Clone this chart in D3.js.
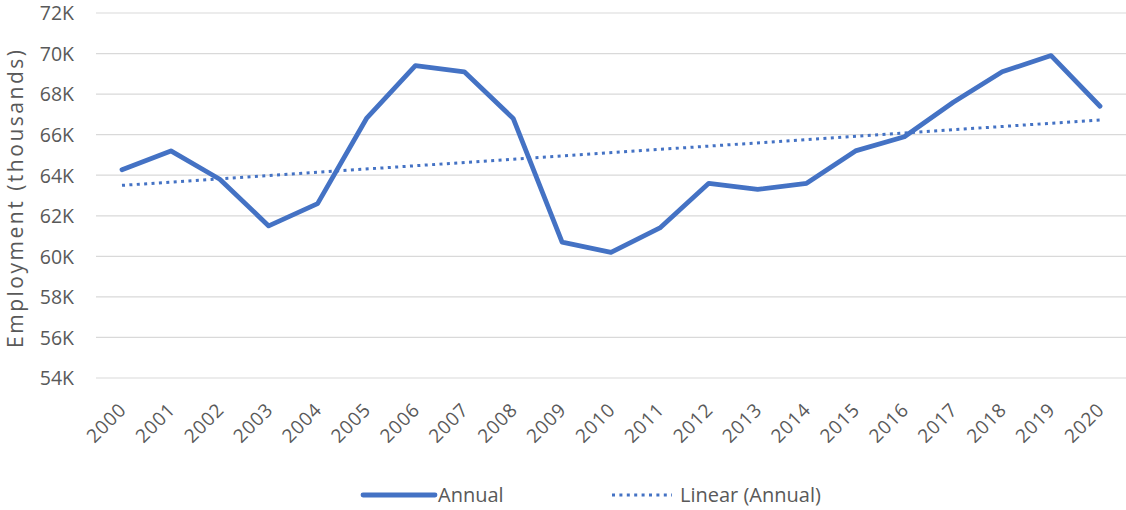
<!DOCTYPE html>
<html>
<head>
<meta charset="utf-8">
<script src="https://cdn.jsdelivr.net/npm/d3@7/dist/d3.min.js"></script>
<style>
  html, body { margin: 0; padding: 0; background: #fff; }
  svg text { font-family: "Open Sans", "Liberation Sans", sans-serif; fill: #595959; }
</style>
</head>
<body>
<svg id="chart" width="1126" height="510"></svg>
<script>
// Annual employment, thousands
const years = ["2000","2001","2002","2003","2004","2005","2006","2007","2008","2009","2010",
               "2011","2012","2013","2014","2015","2016","2017","2018","2019","2020"];
const employment = [64.27, 65.2, 63.8, 61.5, 62.6, 66.8, 69.4, 69.1, 66.8, 60.7, 60.2,
                    61.4, 63.6, 63.3, 63.6, 65.2, 65.9, 67.6, 69.1, 69.9, 67.4];
const yTicks = [54, 56, 58, 60, 62, 64, 66, 68, 70, 72];
const seriesNames = ["Annual", "Linear (Annual)"];

const W = 1126, H = 510;
const plot = { left: 96, right: 1126, top: 13, bottom: 378 };
const blue = "#4472C4";

const svg = d3.select("#chart");

const x = d3.scalePoint().domain(years).range([122, 1100]);
const y = d3.scaleLinear().domain([54, 72]).range([plot.bottom, plot.top]);

// horizontal gridlines
svg.append("g").selectAll("line").data(yTicks).join("line")
  .attr("x1", plot.left).attr("x2", plot.right)
  .attr("y1", d => y(d)).attr("y2", d => y(d))
  .attr("stroke", "#d9d9d9").attr("stroke-width", 1.2);

// y axis labels
const yAxis = svg.append("g")
  .attr("transform", `translate(${plot.left - 22},0)`)
  .call(d3.axisLeft(y).tickValues(yTicks).tickFormat(d => d + "K").tickSize(0).tickPadding(0));
yAxis.select(".domain").remove();
yAxis.selectAll("text")
  .attr("font-size", 19.5).attr("fill", "#595959")
  .style("font-family", '"Open Sans", sans-serif')
  .attr("dy", "0.35em");

// x axis labels, rotated
const xAxis = svg.append("g")
  .attr("transform", `translate(0,${plot.bottom})`)
  .call(d3.axisBottom(x).tickSize(0).tickPadding(0));
xAxis.select(".domain").remove();
xAxis.selectAll("text")
  .attr("font-size", 19).attr("fill", "#595959")
  .style("font-family", '"Open Sans", sans-serif')
  .attr("letter-spacing", 0.8)
  .attr("text-anchor", "end")
  .attr("dy", null).attr("y", null)
  .attr("transform", "translate(5,33) rotate(-45)");

// y axis title
svg.append("text")
  .attr("transform", `translate(23,199) rotate(-90)`)
  .attr("text-anchor", "middle")
  .attr("font-size", 21)
  .attr("textLength", 298).attr("lengthAdjust", "spacing")
  .text("Employment (thousands)");

// linear trend (least squares on the annual series)
const n = employment.length;
const xs = d3.range(n);
const mx = d3.mean(xs), my = d3.mean(employment);
const slope = d3.sum(xs, i => (i - mx) * (employment[i] - my)) / d3.sum(xs, i => (i - mx) ** 2);
const intercept = my - slope * mx;
const trend = [0, n - 1].map(i => ({ year: years[i], v: intercept + slope * i }));

const line = d3.line().x(d => x(d.year)).y(d => y(d.v));

svg.append("path")
  .datum(trend)
  .attr("d", line)
  .attr("fill", "none")
  .attr("stroke", blue)
  .attr("stroke-width", 3)
  .attr("stroke-dasharray", "3 4.4");

// annual series
svg.append("path")
  .datum(years.map((yr, i) => ({ year: yr, v: employment[i] })))
  .attr("d", line)
  .attr("fill", "none")
  .attr("stroke", blue)
  .attr("stroke-width", 4.8)
  .attr("stroke-linejoin", "round")
  .attr("stroke-linecap", "round");

// legend
const legend = svg.append("g");
legend.append("line")
  .attr("x1", 363).attr("x2", 435).attr("y1", 495).attr("y2", 495)
  .attr("stroke", blue).attr("stroke-width", 4.8).attr("stroke-linecap", "round");
legend.append("text")
  .attr("x", 438).attr("y", 502).attr("font-size", 20)
  .text(seriesNames[0]);
legend.append("line")
  .attr("x1", 612).attr("x2", 672).attr("y1", 495).attr("y2", 495)
  .attr("stroke", blue).attr("stroke-width", 3).attr("stroke-dasharray", "3 4.4");
legend.append("text")
  .attr("x", 680).attr("y", 502).attr("font-size", 20)
  .text(seriesNames[1]);
</script>
</body>
</html>
